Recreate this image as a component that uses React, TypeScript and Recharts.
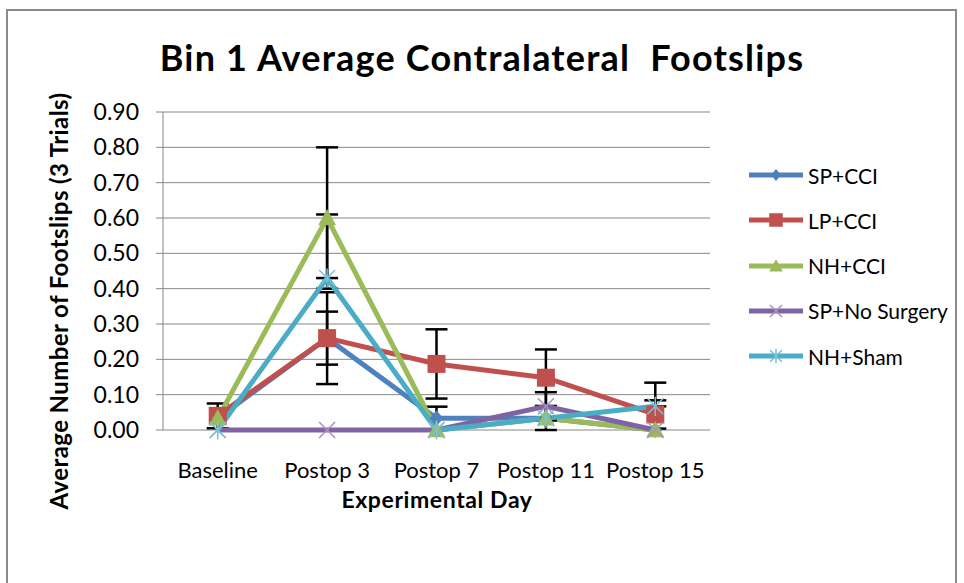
import React from 'react'
import { LineChart, Line, XAxis, YAxis, CartesianGrid, ErrorBar } from 'recharts'

// categories and y ticks
const days = ['Baseline', 'Postop 3', 'Postop 7', 'Postop 11', 'Postop 15']
const yTicks = [0, 0.1, 0.2, 0.3, 0.4, 0.5, 0.6, 0.7, 0.8, 0.9]
const edgeTicks = [-0.5, 0.5, 1.5, 2.5, 3.5, 4.5]

// series means
const spCci = [0.033, 0.26, 0.033, 0.033, 0]
const lpCci = [0.04, 0.26, 0.187, 0.148, 0.044]
const nhCci = [0.033, 0.6, 0, 0.033, 0]
const spNoSurgery = [0, 0, 0, 0.067, 0]
const nhSham = [0, 0.43, 0, 0.033, 0.067]

// error bars (null = none drawn)
const spCciErr = [null, 0.13, 0.033, null, null]
const lpCciErr = [0.035, 0.075, 0.098, 0.08, 0.04]
const nhCciErr = [null, 0.2, null, 0.033, null]
const spNoSurgeryErr = [null, null, null, 0.04, null]
const nhShamErr: (number[] | null)[] = [null, [0, 0.18], null, null, [0, 0.067]]

const data = days.map((day, i) => ({
  idx: i,
  day,
  spCci: spCci[i],
  lpCci: lpCci[i],
  nhCci: nhCci[i],
  spNo: spNoSurgery[i],
  nhSham: nhSham[i],
  spCciErr: spCciErr[i],
  lpCciErr: lpCciErr[i],
  nhCciErr: nhCciErr[i],
  spNoErr: spNoSurgeryErr[i],
  nhShamErr: nhShamErr[i],
}))

const FONT = 'Lato, "Open Sans", sans-serif'
const AXIS_GRAY = '#868686'

type Marker = 'diamond' | 'square' | 'triangle' | 'x' | 'star'

function markerShape(kind: Marker, cx: number, cy: number, color: string, s: number) {
  switch (kind) {
    case 'diamond':
      return <path d={`M${cx},${cy - s}L${cx + s * 0.85},${cy}L${cx},${cy + s}L${cx - s * 0.85},${cy}Z`} fill={color} />
    case 'square':
      return <rect x={cx - s} y={cy - s} width={s * 2} height={s * 2} fill={color} />
    case 'triangle':
      return <path d={`M${cx},${cy - s}L${cx + s},${cy + s * 0.8}L${cx - s},${cy + s * 0.8}Z`} fill={color} />
    case 'x':
      return (
        <path
          d={`M${cx - s},${cy - s}L${cx + s},${cy + s}M${cx - s},${cy + s}L${cx + s},${cy - s}`}
          stroke={color}
          strokeWidth={1.5}
          fill="none"
        />
      )
    case 'star':
      return (
        <path
          d={`M${cx - s},${cy - s}L${cx + s},${cy + s}M${cx - s},${cy + s}L${cx + s},${cy - s}M${cx},${cy - s * 1.2}L${cx},${cy + s * 1.2}`}
          stroke={color}
          strokeWidth={1.5}
          fill="none"
        />
      )
  }
}

const series: { key: string; err: string; name: string; color: string; markColor: string; marker: Marker; size: number }[] = [
  { key: 'spCci', err: 'spCciErr', name: 'SP+CCI', color: '#4F81BD', markColor: '#4F81BD', marker: 'diamond', size: 8 },
  { key: 'lpCci', err: 'lpCciErr', name: 'LP+CCI', color: '#C0504D', markColor: '#C0504D', marker: 'square', size: 9 },
  { key: 'nhCci', err: 'nhCciErr', name: 'NH+CCI', color: '#9BBB59', markColor: '#9BBB59', marker: 'triangle', size: 9 },
  { key: 'spNo', err: 'spNoErr', name: 'SP+No Surgery', color: '#8064A2', markColor: '#A693C4', marker: 'x', size: 8 },
  { key: 'nhSham', err: 'nhShamErr', name: 'NH+Sham', color: '#4BACC6', markColor: '#79C3D8', marker: 'star', size: 8 },
]

export default function App() {
  return (
    <div style={{ position: 'absolute', left: 0, top: 0, width: 964, height: 583, overflow: 'hidden', fontFamily: FONT }}>
      <div
        style={{
          position: 'absolute',
          left: 6,
          top: 9,
          width: 951,
          height: 600,
          border: '2px solid #8b8b8b',
          boxSizing: 'border-box',
        }}
      />
      <div
        style={{
          position: 'absolute',
          left: 0,
          width: 964,
          top: 57,
          transform: 'translateY(-50%)',
          textAlign: 'center',
          fontSize: 36,
          fontWeight: 700,
          letterSpacing: 1.2,
          whiteSpace: 'pre',
        }}
      >
        Bin 1 Average Contralateral  Footslips
      </div>

      <div style={{ position: 'absolute', left: 0, top: 0 }}>
        <LineChart width={964} height={583} data={data} margin={{ top: 112, right: 254, bottom: 117, left: 103 }}>
          <CartesianGrid vertical={false} stroke={AXIS_GRAY} strokeWidth={1} />
          <YAxis
            type="number"
            domain={[0, 0.9]}
            ticks={yTicks}
            width={60}
            tickFormatter={(v: number) => v.toFixed(2)}
            tick={{ fill: '#000', fontSize: 23, fontFamily: FONT }}
            tickSize={7}
            tickMargin={17}
            stroke={AXIS_GRAY}
            axisLine={{ stroke: AXIS_GRAY }}
            tickLine={{ stroke: AXIS_GRAY }}
          />
          <XAxis
            dataKey="idx"
            type="number"
            domain={[-0.5, 4.5]}
            ticks={[0, 1, 2, 3, 4]}
            height={36}
            interval={0}
            tickFormatter={(v: number) => days[v]}
            tick={{ fill: '#000', fontSize: 22, fontFamily: FONT }}
            tickSize={0}
            tickMargin={32}
            axisLine={false}
            tickLine={false}
          />
          <XAxis
            xAxisId="edge"
            dataKey="idx"
            type="number"
            domain={[-0.5, 4.5]}
            ticks={edgeTicks}
            height={0}
            tick={false}
            tickSize={7}
            axisLine={{ stroke: AXIS_GRAY }}
            tickLine={{ stroke: AXIS_GRAY }}
          />
          {series.map((s) => (
            <Line
              key={s.key}
              dataKey={s.key}
              name={s.name}
              stroke={s.color}
              strokeWidth={5}
              isAnimationActive={false}
              dot={(p: any) => (
                <g key={`${s.key}-${p.index}`}>{markerShape(s.marker, p.cx, p.cy, s.markColor, s.size)}</g>
              )}
              activeDot={false}
            >
              <ErrorBar dataKey={s.err} direction="y" width={11} stroke="#000" strokeWidth={2.5} isAnimationActive={false} />
            </Line>
          ))}
        </LineChart>
      </div>

      {/* axis titles */}
      <div
        style={{
          position: 'absolute',
          left: 58,
          top: 301,
          transform: 'translate(-50%, -50%) rotate(-90deg)',
          fontSize: 24,
          fontWeight: 700,
          letterSpacing: 0.4,
          whiteSpace: 'nowrap',
        }}
      >
        Average Number of Footslips (3 Trials)
      </div>
      <div
        style={{
          position: 'absolute',
          left: 437,
          top: 499,
          transform: 'translate(-50%, -50%)',
          fontSize: 23,
          lineHeight: '24px',
          fontWeight: 700,
          letterSpacing: 0.6,
          whiteSpace: 'nowrap',
        }}
      >
        Experimental Day
      </div>

      {/* legend */}
      {series.map((s, i) => (
        <div key={s.key} style={{ position: 'absolute', left: 745, top: 175 + i * 45.3 - 15, height: 30, display: 'flex', alignItems: 'center' }}>
          <svg width={62} height={30}>
            <line x1={4} y1={15} x2={58} y2={15} stroke={s.color} strokeWidth={5} />
            {markerShape(s.marker, 31, 15, s.markColor, s.size * 0.75)}
          </svg>
          <span style={{ fontSize: 21, marginLeft: 1, whiteSpace: 'nowrap' }}>{s.name}</span>
        </div>
      ))}
    </div>
  )
}
